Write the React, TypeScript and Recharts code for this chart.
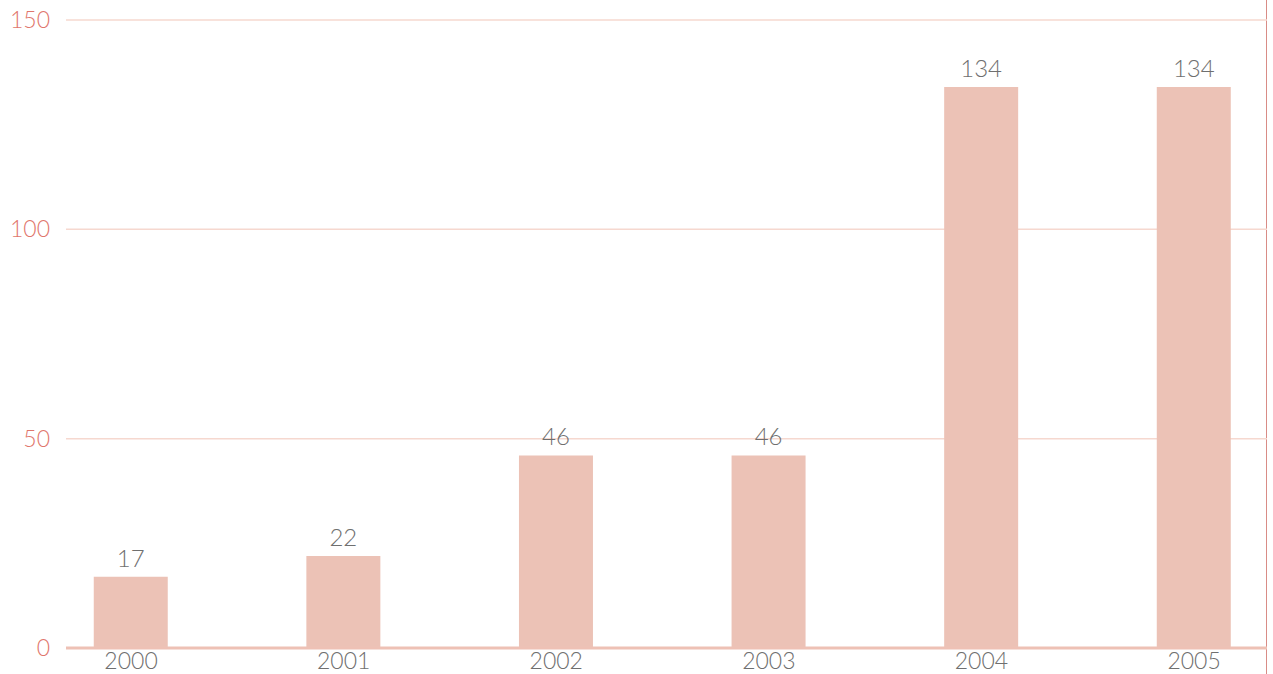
import { BarChart, Bar, XAxis, YAxis, CartesianGrid, LabelList } from 'recharts'

// 年別の値（ラベルから読み取り）
const years = [2000, 2001, 2002, 2003, 2004, 2005]
const values = [17, 22, 46, 46, 134, 134]
const yTicks = [0, 50, 100, 150]

const data = years.map((year, i) => ({ year, value: values[i] }))

const FONT = 'Lato, "Noto Sans", sans-serif'

export default function App() {
  return (
    <div style={{ position: 'absolute', left: 0, top: 0, width: 1266, height: 674, borderRight: '1px solid #d98c86', background: '#fff' }}>
      <BarChart width={1267} height={674} data={data} margin={{ top: 20, right: 0, left: 0, bottom: 0 }}>
        <CartesianGrid vertical={false} stroke="#f6d8cf" strokeWidth={1.5} />
        <XAxis
          dataKey="year"
          type="number"
          domain={[1999.694, 2005.343]}
          ticks={years}
          interval={0}
          height={26}
          axisLine={{ stroke: '#eec1b5', strokeWidth: 3 }}
          tickLine={false}
          tickSize={5}
          tickMargin={0}
          tick={{ fontSize: 23, fill: '#6f6f6f', fontFamily: FONT, fontWeight: 300 }}
        />
        <YAxis
          domain={[0, 150]}
          ticks={yTicks}
          width={66}
          axisLine={false}
          tickLine={false}
          tickSize={0}
          tickMargin={16}
          tick={{ fontSize: 23, fill: '#df766c', fontFamily: FONT, fontWeight: 300 }}
        />
        <Bar dataKey="value" fill="#ecc2b6" barSize={74} isAnimationActive={false}>
          <LabelList dataKey="value" position="top" offset={10} style={{ fontSize: 24, fill: '#6f6f6f', fontFamily: FONT, fontWeight: 300 }} />
        </Bar>
      </BarChart>
    </div>
  )
}
